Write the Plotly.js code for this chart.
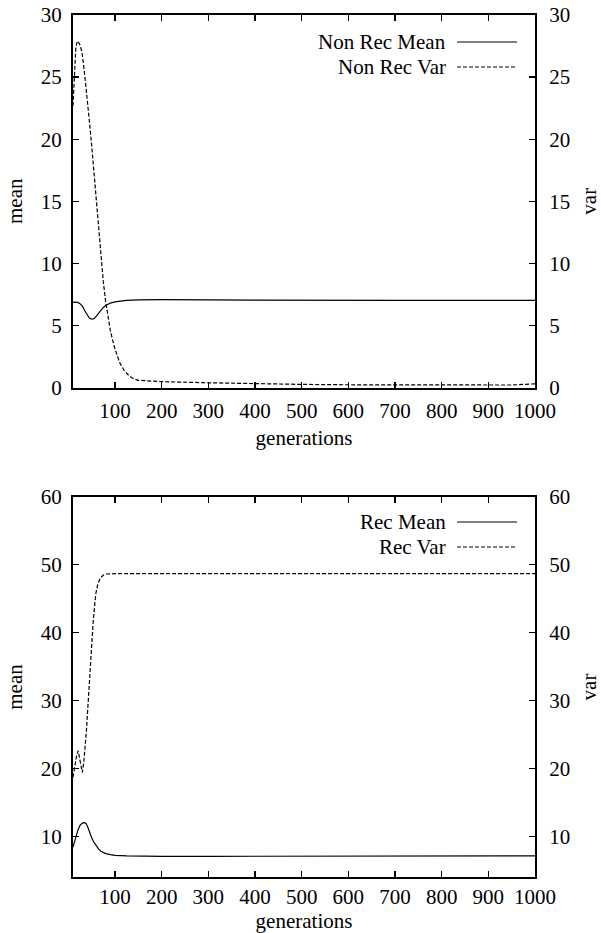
<!DOCTYPE html>
<html>
<head>
<meta charset="utf-8">
<script src="https://cdn.plot.ly/plotly-3.0.1.min.js"></script>
<style>html,body{margin:0;padding:0;background:#fff;}#chart{width:601px;height:933px;}</style>
</head>
<body>
<div id="chart"></div>
<script>
// ---- Data ----
var nrMeanGen = [10,15,20,25,30,35,40,45,50,55,60,65,70,75,80,90,100,110,125,150,175,200,300,400,500,600,700,800,900,1000];
var nrMean    = [6.88,6.88,6.85,6.75,6.55,6.2,5.85,5.6,5.5,5.55,5.75,6.0,6.25,6.45,6.6,6.8,6.9,6.96,7.02,7.06,7.08,7.08,7.05,7.03,7.02,7.02,7.02,7.02,7.02,7.02];
var nrVarGen  = [10,13,16,19,22,26,30,35,40,45,50,55,60,65,70,75,80,85,90,95,100,110,120,130,140,150,175,200,300,400,500,600,700,800,900,950,1000];
var nrVar     = [22.7,25.5,27.3,27.9,27.8,27.5,26.8,25.2,23.5,21.5,19.5,17.2,15.0,12.8,10.4,8.5,6.9,5.6,4.6,3.8,3.1,2.0,1.35,0.95,0.7,0.58,0.5,0.47,0.38,0.3,0.25,0.22,0.2,0.18,0.18,0.2,0.3];

var rMeanGen  = [10,15,20,25,30,35,38,42,46,50,55,60,65,70,80,90,100,125,150,200,300,500,700,1000];
var rMean     = [8.4,9.6,10.8,11.6,11.95,12.0,11.9,11.3,10.5,9.8,9.1,8.5,8.1,7.8,7.45,7.3,7.2,7.12,7.08,7.05,7.05,7.08,7.1,7.12];
var rVarGen   = [10,14,18,21,24,27,30,33,36,39,42,46,50,53,56,59,63,68,75,82,100,200,400,600,800,1000];
var rVar      = [18.7,20.5,22.0,22.6,21.3,20.0,19.4,20.8,23.0,25.8,29.2,34.1,38.3,41.4,43.8,45.8,47.1,48.0,48.5,48.65,48.7,48.7,48.7,48.7,48.7,48.7];

var xTicks    = [100,200,300,400,500,600,700,800,900,1000];
var topTicks  = [0,5,10,15,20,25,30];
var botTicks  = [10,20,30,40,50,60];
var legendTop = ["Non Rec Mean","Non Rec Var"];
var legendBot = ["Rec Mean","Rec Var"];

// ---- Style ----
var FONT = {family:"Liberation Serif", size:21, color:"#000"};
var solid = {color:"#000", width:1.2};
var dashed = {color:"#000", width:1.2, dash:"4px,2px"};

var traces = [
  {x:nrMeanGen, y:nrMean, xaxis:"x", yaxis:"y", mode:"lines", line:solid, showlegend:false},
  {x:nrVarGen, y:nrVar, xaxis:"x", yaxis:"y2", mode:"lines", line:dashed, showlegend:false},
  {x:rMeanGen, y:rMean, xaxis:"x2", yaxis:"y3", mode:"lines", line:solid, showlegend:false},
  {x:rVarGen, y:rVar, xaxis:"x2", yaxis:"y4", mode:"lines", line:dashed, showlegend:false}
];

function xAx(anchor, lblStand, standoff){
  return {domain:[0,1], anchor:anchor, range:[10,1000], tickvals:xTicks, ticktext:xTicks.map(String),
    ticks:"inside", ticklen:6, tickwidth:1.2, tickcolor:"#000", mirror:"ticks",
    showline:true, linewidth:2, linecolor:"#000", showgrid:false, zeroline:false,
    ticklabelstandoff:lblStand, tickfont:FONT,
    title:{text:"generations", font:FONT, standoff:standoff}};
}
function yAx(domain, anchor, range, tv, side, overlay, title){
  var a = {anchor:anchor, range:range, tickvals:tv, ticktext:tv.map(String),
    ticks:"inside", ticklen:6, tickwidth:1.2, tickcolor:"#000", side:side,
    showline:true, linewidth:2, linecolor:"#000", showgrid:false, zeroline:false,
    ticklabelstandoff:side === "left" ? 5 : 8, tickfont:FONT, title:{text:title, font:FONT, standoff:12}};
  if (domain) a.domain = domain;
  if (overlay) a.overlaying = overlay;
  return a;
}

var L=73, R=66, T=15, B=56;
var H=933-T-B, W=601-L-R;
function py(pix){ return (933-B-pix)/H; }
function px(pix){ return (pix-L)/W; }

var topDom = [py(387.5), 1];
var botDom = [0, py(497)];

var annotations = [], shapes = [];
function addLegend(labels, rows, styles){
  for (var i=0;i<labels.length;i++){
    annotations.push({xref:"paper", yref:"paper", x:px(448), y:py(rows[i]), xanchor:"right", yanchor:"middle",
      text:labels[i], showarrow:false, font:FONT});
    shapes.push({type:"line", xref:"paper", yref:"paper", x0:px(457), x1:px(517), y0:py(rows[i]), y1:py(rows[i]), line:styles[i]});
  }
}
addLegend(legendTop, [42, 67], [solid, dashed]);
addLegend(legendBot, [522, 547], [solid, dashed]);

var layout = {
  width:601, height:933, margin:{l:L, r:R, t:T, b:B, autoexpand:false},
  paper_bgcolor:"#fff", plot_bgcolor:"#fff", font:FONT, showlegend:false,
  xaxis: xAx("y", 3, 9),
  yaxis: yAx(topDom, "x", [0,30], topTicks, "left", null, "mean"),
  yaxis2: yAx(null, "x", [0,30], topTicks, "right", "y", "var"),
  xaxis2: xAx("y3", 0, 6),
  yaxis3: yAx(botDom, "x2", [4,60], botTicks, "left", null, "mean"),
  yaxis4: yAx(null, "x2", [4,60], botTicks, "right", "y3", "var"),
  annotations:annotations, shapes:shapes
};

Plotly.newPlot("chart", traces, layout, {staticPlot:true, displayModeBar:false});
</script>
</body>
</html>
